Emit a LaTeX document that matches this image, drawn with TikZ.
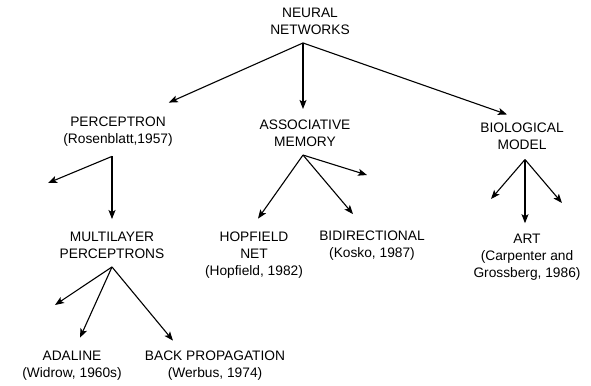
\documentclass[tikz,border=0pt]{standalone}
\usepackage{fontspec}
\setmainfont{Liberation Sans}
\usetikzlibrary{arrows.meta}
\tikzset{%
  topic/.style  = {shape=rectangle, align=center, inner sep=2bp},%
  branch/.style = {-{Stealth[length=9bp,width=7bp,inset=2bp]}, line width=1.1bp},%
  stub/.style   = {branch}%
}
\begin{document}
\begin{tikzpicture}[x=1bp,y=-1bp,
	every node/.style = {font=\fontsize{13.8}{17}\selectfont}]
	\useasboundingbox (0,0) rectangle (591,385);
	\node [topic] (nn)     at (310,21.5)  {NEURAL\\NETWORKS};
	\node [topic] (perc)   at (118,131.5) {PERCEPTRON\\(Rosenblatt,1957)};
	\node [topic] (assoc)  at (305,133.5) {ASSOCIATIVE\\MEMORY};
	\node [topic] (bio)    at (522,136)   {BIOLOGICAL\\MODEL};
	\node [topic] (multi)  at (112,245.5) {MULTILAYER\\PERCEPTRONS};
	\node [topic] (hop)    at (254,255)   {HOPFIELD\\NET\\(Hopfield, 1982)};
	\node [topic] (bidir)  at (372,246)   {BIDIRECTIONAL\\(Kosko, 1987)};
	\node [topic] (art)    at (527,257.5) {ART\\(Carpenter and\\Grossberg, 1986)};
	\node [topic] (adal)   at (72,365.5)  {ADALINE\\(Widrow, 1960s)};
	\node [topic] (back)   at (215,365.5) {BACK PROPAGATION\\(Werbus, 1974)};

	\coordinate (nn-o)    at ([shift={(-7,6)}]nn.south);
	\coordinate (perc-o)  at ([shift={(-6,8)}]perc.south);
	\coordinate (assoc-o) at ([shift={(-2,6)}]assoc.south);
	\coordinate (bio-o)   at ([shift={(3,8)}]bio.south);
	\coordinate (multi-o) at ([shift={(0,6)}]multi.south);
	\coordinate (perc-x)  at (48,183);
	\coordinate (multi-x) at (55,305);
	\coordinate (assoc-x) at (367,175);
	\coordinate (bio-xl)  at (491,199);
	\coordinate (bio-xr)  at (562,203);

	\draw [branch] (nn-o) -- ([shift={(-6,-12)}]perc.north east);
	\draw [branch] (nn-o) -- ([shift={(-2,-9)}]assoc.north);
	\draw [branch] (nn-o) -- ([shift={(-15,-6)}]bio.north);
	\draw [stub]   (perc-o) -- (perc-x);
	\draw [branch] (perc-o) -- ([shift={(0,-11)}]multi.north);
	\draw [stub]   (multi-o) -- (multi-x);
	\draw [branch] (multi-o) -- ([shift={(8,-11)}]adal.north);
	\draw [branch] (multi-o) -- ([shift={(-42,-8)}]back.north);
	\draw [branch] (assoc-o) -- ([shift={(4,-11)}]hop.north);
	\draw [branch] (assoc-o) -- ([shift={(-19,-15)}]bidir.north);
	\draw [stub]   (assoc-o) -- (assoc-x);
	\draw [stub]   (bio-o) -- (bio-xl);
	\draw [branch] (bio-o) -- ([shift={(-2,-9)}]art.north);
	\draw [stub]   (bio-o) -- (bio-xr);
\end{tikzpicture}
\end{document}
